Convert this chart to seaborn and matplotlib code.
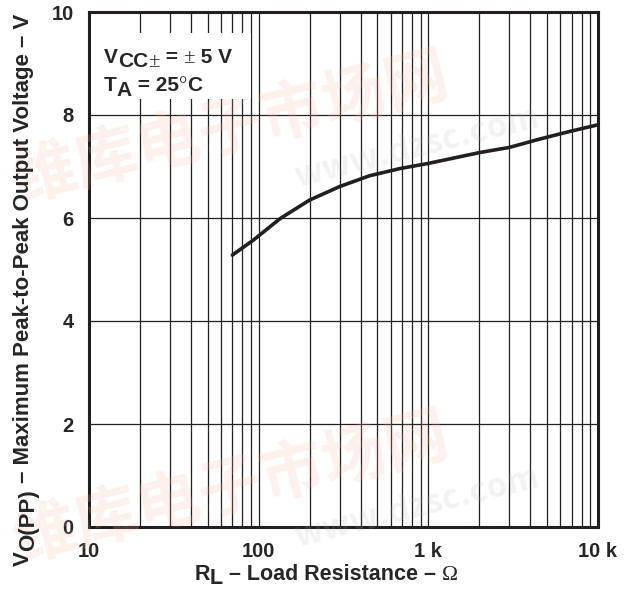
import numpy as np
import pandas as pd
import matplotlib
matplotlib.use("Agg")
import matplotlib.pyplot as plt
from matplotlib.font_manager import FontProperties
from matplotlib.patches import Rectangle
import seaborn as sns

# Load resistance (ohms) and maximum peak-to-peak output voltage (V)
load_resistance = [70, 93, 134, 200, 300, 450, 680, 1000, 2000, 3000, 4500, 6800, 10000]
vout_pp = [5.28, 5.57, 5.99, 6.35, 6.61, 6.82, 6.96, 7.06, 7.27, 7.37, 7.53, 7.68, 7.81]

x_ticks = [10, 100, 1000, 10000]
x_tick_labels = ["10", "100", "1 k", "10 k"]
y_ticks = [0, 2, 4, 6, 8, 10]

sns.set_style("white")
plt.rcParams["font.family"] = ["Liberation Sans", "DejaVu Sans"]
plt.rcParams["font.weight"] = "bold"

W, H = 632, 590
df = pd.DataFrame({"R": load_resistance, "V": vout_pp})

fig = plt.figure(figsize=(W / 100, H / 100), dpi=100)
ax = fig.add_axes([89 / W, 1 - 527 / H, 509 / W, 515 / H])
renderer = fig.canvas.get_renderer()

SANS = FontProperties(family="Liberation Sans", weight="bold")
SERIF = FontProperties(family="Liberation Serif", weight="normal")


def rich_text(x, y, pieces, size, rotation=0, align="left"):
    """Draw a run of text pieces (text, drop_px, font) on one baseline.

    x, y are pixel positions from the top-left corner; drop_px lowers a
    piece relative to the baseline (full-size subscripts)."""
    widths = []
    for s, _, fp in pieces:
        p = fp.copy()
        p.set_size(size)
        w, _, _ = renderer.get_text_width_height_descent(s, p, ismath=False)
        widths.append(w)
    total = sum(widths)
    along = 0 if align == "left" else -total / 2
    for (s, drop, fp), w in zip(pieces, widths):
        if rotation == 90:
            px, py = x + drop, y - along
        else:
            px, py = x + along, y + drop
        fig.text(px / W, 1 - py / H, s, fontproperties=fp, fontsize=size,
                 rotation=rotation, rotation_mode="anchor",
                 ha="left", va="baseline", zorder=8)
        along += w


# faint site watermark behind the plot
wm_kw = dict(family=["Noto Sans CJK SC", "DejaVu Sans"], fontweight="bold",
             rotation=14, zorder=0, transform=fig.transFigure)
for yy in (0.78, 0.17):
    fig.text(0.01, yy, "维库电子市场网", fontsize=46, color="#f4b8a4", alpha=0.2,
             va="center", ha="left", **wm_kw)
    fig.text(0.46, yy - 0.03, "www.dzsc.com", fontsize=24, color="#b0b0b0", alpha=0.16,
             va="center", ha="left", **wm_kw)

ax.set_xscale("log")
ax.set_xlim(10, 10000)
ax.set_ylim(0, 10)
ax.patch.set_alpha(0)

sns.lineplot(data=df, x="R", y="V", ax=ax, color="#231f20", linewidth=2.6, zorder=5)

ax.set_xticks(x_ticks)
ax.set_xticklabels(x_tick_labels)
ax.set_yticks(y_ticks)
ax.set_yticklabels([str(v) for v in y_ticks])
minor = [m * 10 ** d for d in (1, 2, 3) for m in range(2, 10)]
ax.set_xticks(minor, minor=True)
ax.set_xticklabels([], minor=True)
ax.tick_params(axis="both", which="both", length=0, labelsize=14.5)
ax.tick_params(axis="x", pad=11)
ax.tick_params(axis="y", pad=11)
for lab in ax.get_xticklabels() + ax.get_yticklabels():
    lab.set_fontweight("bold")
ax.set_xlabel("")
ax.set_ylabel("")

ax.grid(True, which="both", axis="x", color="#231f20", linewidth=0.9)
ax.grid(True, which="major", axis="y", color="#231f20", linewidth=0.9)
for s in ax.spines.values():
    s.set_linewidth(2.2)
    s.set_color("#231f20")
    s.set_visible(True)

# white panel behind the conditions text
fig.patches.append(Rectangle((96 / W, 1 - 99 / H), 155 / W, 66 / H,
                             transform=fig.transFigure, facecolor="white",
                             edgecolor="none", zorder=4))
rich_text(104, 63, [("V", 0, SANS), ("CC", 4, SANS), ("±", 4, SERIF),
                    (" = ", 0, SANS), ("±", 0, SERIF), (" 5 V", 0, SANS)], 15)
rich_text(104, 91, [("T", 0, SANS), ("A", 5, SANS), (" = 25", 0, SANS),
                    ("°", 0, SERIF), ("C", 0, SANS)], 15)

# axis titles with full-size subscripts
rich_text(326, 580, [("R", 0, SANS), ("L", 4, SANS),
                     (" – Load Resistance – ", 0, SANS), ("Ω", 0, SERIF)], 15.5, align="center")
rich_text(29, 290, [("V", 0, SANS), ("O(PP)", 5, SANS),
                    (" – Maximum Peak-to-Peak Output Voltage – V", 0, SANS)], 16,
          rotation=90, align="center")

fig.savefig("out.png", dpi=100)
